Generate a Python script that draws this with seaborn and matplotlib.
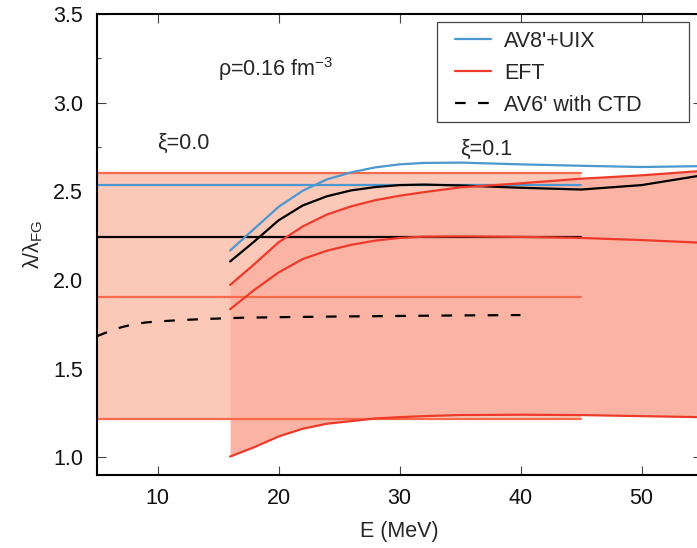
import numpy as np
import pandas as pd
import matplotlib
matplotlib.use("Agg")
import matplotlib.pyplot as plt
from matplotlib.lines import Line2D
from matplotlib.patches import Rectangle
from matplotlib.ticker import MultipleLocator, FormatStrFormatter
import seaborn as sns

# --- xi = 0.0 (temperature-independent values, drawn as flat lines up to 45 MeV)
xi0_range = [5, 45]
xi0_eft_top = 2.606
xi0_eft_mid = 1.906
xi0_eft_bottom = 1.217
xi0_av8 = 2.537
xi0_av6 = 2.245

# --- xi = 0.1 curves versus energy
e_xi1 = [16, 18, 20, 22, 24, 26, 28, 30, 32, 35, 40, 45, 50, 55]
av8_xi1 = [2.166, 2.289, 2.412, 2.503, 2.567, 2.607, 2.635, 2.652, 2.660, 2.662, 2.652, 2.644, 2.637, 2.642]
av6_xi1 = [2.104, 2.217, 2.336, 2.420, 2.472, 2.505, 2.524, 2.535, 2.538, 2.533, 2.520, 2.510, 2.535, 2.590]
eft_upper_xi1 = [1.972, 2.089, 2.212, 2.302, 2.369, 2.415, 2.450, 2.475, 2.495, 2.522, 2.545, 2.571, 2.590, 2.615]
eft_mid_xi1 = [1.835, 1.944, 2.042, 2.118, 2.165, 2.198, 2.222, 2.237, 2.244, 2.246, 2.243, 2.237, 2.225, 2.210]
eft_lower_xi1 = [1.004, 1.057, 1.117, 1.161, 1.189, 1.204, 1.219, 1.226, 1.232, 1.238, 1.240, 1.238, 1.232, 1.226]

# --- AV6' with CTD (dashed)
e_ctd = [5, 6, 7, 8, 9, 10, 12, 14, 17, 20, 25, 30, 35, 40]
av6_ctd = [1.683, 1.710, 1.733, 1.750, 1.760, 1.766, 1.774, 1.780, 1.787, 1.790, 1.794, 1.797, 1.800, 1.802]

legend_labels = ["AV8'+UIX", "EFT", "AV6' with CTD"]

BLUE = "#4a98cf"
RED = "#ee3a2a"
TOMATO = "#fb6a4a"
BAND0 = "#fcc8b8"
BAND1 = "#fbb4a4"
FS = 15.5
DASH = [4.8, 5.6]

sns.set_theme(style="ticks")
plt.rcParams["font.family"] = ["Liberation Sans", "DejaVu Sans"]
plt.rcParams["mathtext.fontset"] = "custom"
plt.rcParams["mathtext.rm"] = "Liberation Sans"
plt.rcParams["mathtext.it"] = "Liberation Sans"

W, H = 697, 548
fig = plt.figure(figsize=(W / 100, H / 100), dpi=100)
ax = fig.add_axes([97 / W, 73 / H, 605 / W, 461 / H])

# Shaded EFT bands
ax.fill_between(xi0_range, [xi0_eft_bottom] * 2, [xi0_eft_top] * 2,
                color=BAND0, lw=0, zorder=1)
ax.fill_between(e_xi1, eft_lower_xi1, eft_upper_xi1, color=BAND1, lw=0, zorder=1.5)

def draw(x, y, color, lw=1.6, z=3):
    df = pd.DataFrame({"E": x, "r": y})
    sns.lineplot(data=df, x="E", y="r", ax=ax, color=color, lw=lw,
                 estimator=None, sort=False, zorder=z)
    return ax.lines[-1]

# xi = 0.0 flat lines
for val, col in [(xi0_eft_top, TOMATO), (xi0_eft_mid, TOMATO), (xi0_eft_bottom, TOMATO),
                 (xi0_av8, BLUE), (xi0_av6, "black")]:
    draw(xi0_range, [val, val], col, z=2.5)

# xi = 0.1 curves
draw(e_xi1, av8_xi1, BLUE)
draw(e_xi1, av6_xi1, "black")
draw(e_xi1, eft_upper_xi1, RED)
draw(e_xi1, eft_mid_xi1, RED)
draw(e_xi1, eft_lower_xi1, RED)

# AV6' with CTD
draw(e_ctd, av6_ctd, "black").set_dashes(DASH)

ax.set_xlim(5, 55)
ax.set_ylim(0.9, 3.5)
ax.xaxis.set_major_locator(MultipleLocator(10))
ax.yaxis.set_major_locator(MultipleLocator(0.5))
ax.yaxis.set_minor_locator(MultipleLocator(0.25))
ax.yaxis.set_major_formatter(FormatStrFormatter("%.1f"))

for s in ax.spines.values():
    s.set_linewidth(1.5)
    s.set_color("black")
ax.tick_params(which="both", direction="in", top=True, right=True,
               color="#444444", width=0.8, labelsize=FS, labelcolor="#111111")
ax.tick_params(which="major", length=6.5)
ax.tick_params(which="minor", length=3)
ax.tick_params(axis="y", pad=10)
ax.tick_params(axis="x", pad=9)

ax.set_xlabel("E (MeV)", fontsize=FS, labelpad=9)
ax.set_ylabel(r"$\mathregular{\lambda/\lambda_{FG}}$", fontsize=FS, labelpad=6)

ax.text(15.0, 3.15, r"ρ=0.16 fm$\mathregular{^{-3}}$", fontsize=FS)
ax.text(10.0, 2.737, "ξ=0.0", fontsize=FS)
ax.text(35.0, 2.707, "ξ=0.1", fontsize=FS)

# Legend: boxed area drawn as its own rectangle, entries placed inside it
box = Rectangle((437 / W, 1 - 122 / H), 252 / W, 100 / H, transform=fig.transFigure,
                facecolor="white", edgecolor="#444444", lw=0.9, zorder=4.9)
ax.add_patch(box)
box.set_clip_on(False)

handles = [Line2D([], [], color=BLUE, lw=1.6),
           Line2D([], [], color=RED, lw=1.6),
           Line2D([], [], color="black", lw=1.6, dashes=DASH)]
leg = ax.legend(handles, legend_labels, loc="upper left",
                bbox_to_anchor=(455 / W, 1 - 31 / H), bbox_transform=fig.transFigure,
                borderaxespad=0, borderpad=0, frameon=False,
                fontsize=FS, handlelength=36 / (FS * 100 / 72), handletextpad=13 / (FS * 100 / 72),
                labelspacing=0.5)
leg.set_zorder(5)

fig.savefig("out.png", dpi=100)
